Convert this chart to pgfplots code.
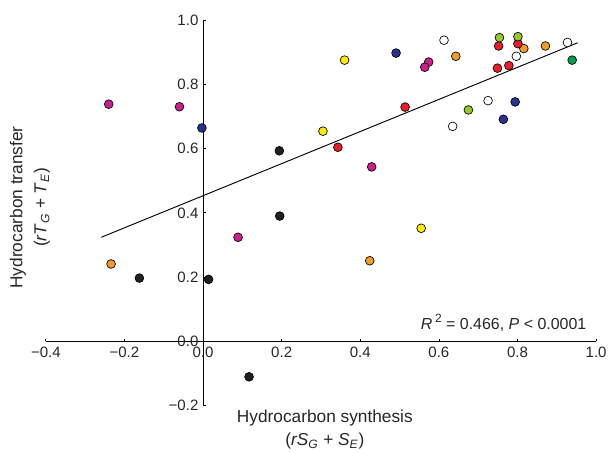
\documentclass[border=0pt]{standalone}
\usepackage{pgfplots}
\pgfplotsset{compat=1.18}
\usepackage{fontspec}
\setmainfont{Liberation Sans}
\definecolor{cmag}{RGB}{204,30,140}
\definecolor{cblue}{RGB}{40,50,145}
\definecolor{corange}{RGB}{245,155,40}
\definecolor{cyellow}{RGB}{255,236,0}
\definecolor{cred}{RGB}{235,30,40}
\definecolor{cgreen}{RGB}{0,155,75}
\definecolor{cyg}{RGB}{150,200,40}
\definecolor{cblack}{RGB}{35,31,32}
\begin{document}
\begin{tikzpicture}
\begin{axis}[
  scale only axis, width=414pt, height=290.25pt,
  xmin=-0.4, xmax=1.0, ymin=-0.2, ymax=1.0,
  axis lines=middle, axis line style={-, black, line width=0.6pt},
  clip=false,
  hide obscured x ticks=false, hide obscured y ticks=false,
  xtick={-0.4,-0.2,0,0.2,0.4,0.6,0.8,1.0},
  xticklabels={−0.4,−0.2,0.0,0.2,0.4,0.6,0.8,1.0},
  ytick={-0.2,0,0.2,0.4,0.6,0.8,1.0},
  yticklabels={−0.2,0.0,0.2,0.4,0.6,0.8,1.0},
  tick align=inside, major tick length=2pt,
  tick style={black, line width=0.6pt},
  ticklabel style={font=\fontsize{11.3}{13}\selectfont, text=black!85},
  xticklabel style={yshift=-1pt},
  mark size=3.3pt,
]
\path (rel axis cs:-0.0833,-0.111) rectangle (rel axis cs:1.0236,1.0517);
% regression line
\addplot[black, line width=0.7pt] coordinates {(-0.259,0.324) (0.953,0.929)};
% magenta
\addplot[only marks, mark=*, mark options={fill=cmag, draw=black, line width=0.5pt}] coordinates {
(-0.240,0.738) (-0.060,0.730) (0.089,0.324) (0.429,0.543) (0.574,0.869) (0.564,0.853)};
% blue
\addplot[only marks, mark=*, mark options={fill=cblue, draw=black, line width=0.5pt}] coordinates {
(-0.003,0.664) (0.491,0.897) (0.794,0.745) (0.764,0.691)};
% black
\addplot[only marks, mark=*, mark options={fill=cblack, draw=black, line width=0.5pt}] coordinates {
(0.194,0.593) (0.195,0.390) (-0.162,0.197) (0.014,0.193) (0.117,-0.110)};
% orange
\addplot[only marks, mark=*, mark options={fill=corange, draw=black, line width=0.5pt}] coordinates {
(-0.234,0.241) (0.424,0.251) (0.643,0.887) (0.816,0.911) (0.871,0.919)};
% yellow
\addplot[only marks, mark=*, mark options={fill=cyellow, draw=black, line width=0.5pt}] coordinates {
(0.360,0.875) (0.305,0.654) (0.555,0.352)};
% red
\addplot[only marks, mark=*, mark options={fill=cred, draw=black, line width=0.5pt}] coordinates {
(0.343,0.604) (0.514,0.729) (0.749,0.850) (0.778,0.858) (0.752,0.919) (0.801,0.926)};
% white
\addplot[only marks, mark=*, mark options={fill=white, draw=black, line width=0.5pt}] coordinates {
(0.613,0.937) (0.927,0.930) (0.797,0.887) (0.725,0.749) (0.635,0.669)};
% yellow-green
\addplot[only marks, mark=*, mark options={fill=cyg, draw=black, line width=0.5pt}] coordinates {
(0.754,0.945) (0.801,0.948) (0.675,0.720)};
% green
\addplot[only marks, mark=*, mark options={fill=cgreen, draw=black, line width=0.5pt}] coordinates {
(0.939,0.875)};
\node[anchor=base east, font=\fontsize{12}{14}\selectfont, text=black!85] at (axis cs:0.987,0.037)
  {\textit{R}\,\raisebox{0.45em}{\fontsize{9}{10}\selectfont 2} = 0.466, \textit{P} < 0.0001};
\node[rotate=90, align=center, font=\fontsize{13}{18}\selectfont, text=black!85] at (rel axis cs:-0.029,0.514)
  {Hydrocarbon transfer\\(\textit{rT}\textsubscript{\textit{G}} + \textit{T}\textsubscript{\textit{E}})};
\node[align=center, font=\fontsize{13}{17}\selectfont, text=black!85] at (rel axis cs:0.507,-0.062)
  {Hydrocarbon synthesis\\(\textit{rS}\textsubscript{\textit{G}} + \textit{S}\textsubscript{\textit{E}})};
\end{axis}
\end{tikzpicture}
\end{document}
